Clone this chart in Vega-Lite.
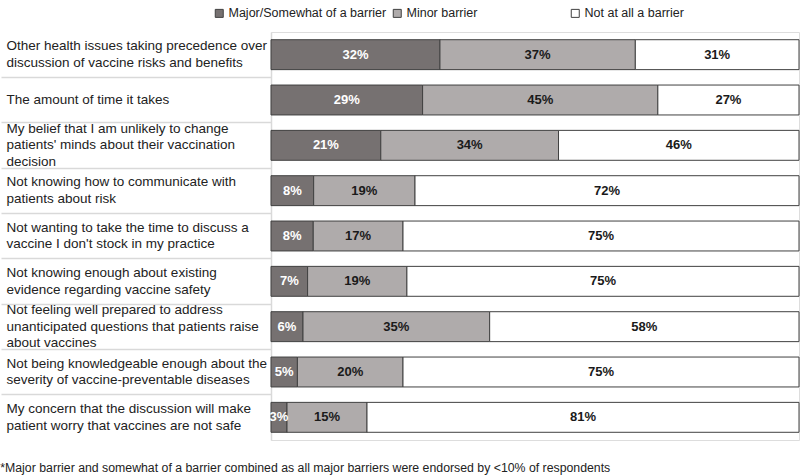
{
  "$schema": "https://vega.github.io/schema/vega-lite/v6.json",
  "width": 528,
  "height": 408,
  "autosize": {"type": "pad"},
  "padding": {"left": 0, "top": 7, "right": 1, "bottom": 1},
  "background": "white",
  "title": {
    "text": "*Major barrier and somewhat of a barrier combined as all major barriers were endorsed by <10% of respondents",
    "orient": "bottom",
    "anchor": "start",
    "frame": "bounds",
    "offset": 22,
    "font": "Liberation Sans",
    "fontSize": 12.3,
    "fontWeight": "normal",
    "color": "#222222"
  },
  "data": {
    "values": [
      {"item": "Other health issues taking precedence over|discussion of vaccine risks and benefits", "cat": "Major/Somewhat of a barrier", "value": 0.32},
      {"item": "Other health issues taking precedence over|discussion of vaccine risks and benefits", "cat": "Minor barrier", "value": 0.37},
      {"item": "Other health issues taking precedence over|discussion of vaccine risks and benefits", "cat": "Not at all a barrier", "value": 0.31},
      {"item": "The amount of time it takes", "cat": "Major/Somewhat of a barrier", "value": 0.29},
      {"item": "The amount of time it takes", "cat": "Minor barrier", "value": 0.45},
      {"item": "The amount of time it takes", "cat": "Not at all a barrier", "value": 0.27},
      {"item": "My belief that I am unlikely to change|patients' minds about their vaccination|decision", "cat": "Major/Somewhat of a barrier", "value": 0.21},
      {"item": "My belief that I am unlikely to change|patients' minds about their vaccination|decision", "cat": "Minor barrier", "value": 0.34},
      {"item": "My belief that I am unlikely to change|patients' minds about their vaccination|decision", "cat": "Not at all a barrier", "value": 0.46},
      {"item": "Not knowing how to communicate with|patients about risk", "cat": "Major/Somewhat of a barrier", "value": 0.08},
      {"item": "Not knowing how to communicate with|patients about risk", "cat": "Minor barrier", "value": 0.19},
      {"item": "Not knowing how to communicate with|patients about risk", "cat": "Not at all a barrier", "value": 0.72},
      {"item": "Not wanting to take the time to discuss a|vaccine I don't stock in my practice", "cat": "Major/Somewhat of a barrier", "value": 0.08},
      {"item": "Not wanting to take the time to discuss a|vaccine I don't stock in my practice", "cat": "Minor barrier", "value": 0.17},
      {"item": "Not wanting to take the time to discuss a|vaccine I don't stock in my practice", "cat": "Not at all a barrier", "value": 0.75},
      {"item": "Not knowing enough about existing|evidence regarding vaccine safety", "cat": "Major/Somewhat of a barrier", "value": 0.07},
      {"item": "Not knowing enough about existing|evidence regarding vaccine safety", "cat": "Minor barrier", "value": 0.19},
      {"item": "Not knowing enough about existing|evidence regarding vaccine safety", "cat": "Not at all a barrier", "value": 0.75},
      {"item": "Not feeling well prepared to address|unanticipated questions that patients raise|about vaccines", "cat": "Major/Somewhat of a barrier", "value": 0.06},
      {"item": "Not feeling well prepared to address|unanticipated questions that patients raise|about vaccines", "cat": "Minor barrier", "value": 0.35},
      {"item": "Not feeling well prepared to address|unanticipated questions that patients raise|about vaccines", "cat": "Not at all a barrier", "value": 0.58},
      {"item": "Not being knowledgeable enough about the|severity of vaccine-preventable diseases", "cat": "Major/Somewhat of a barrier", "value": 0.05},
      {"item": "Not being knowledgeable enough about the|severity of vaccine-preventable diseases", "cat": "Minor barrier", "value": 0.20},
      {"item": "Not being knowledgeable enough about the|severity of vaccine-preventable diseases", "cat": "Not at all a barrier", "value": 0.75},
      {"item": "My concern that the discussion will make|patient worry that vaccines are not safe", "cat": "Major/Somewhat of a barrier", "value": 0.03},
      {"item": "My concern that the discussion will make|patient worry that vaccines are not safe", "cat": "Minor barrier", "value": 0.15},
      {"item": "My concern that the discussion will make|patient worry that vaccines are not safe", "cat": "Not at all a barrier", "value": 0.81}
    ]
  },
  "transform": [
    {"stack": "value", "groupby": ["item"], "sort": [{"field": "cat", "order": "ascending"}], "offset": "normalize", "as": ["s0", "s1"]},
    {"calculate": "(datum.s0 + datum.s1) / 2", "as": "mid"}
  ],
  "encoding": {
    "y": {
      "field": "item",
      "type": "nominal",
      "sort": null,
      "scale": {"paddingInner": 0, "paddingOuter": 0},
      "axis": {
        "title": null,
        "bandPosition": 0,
        "tickSize": 270,
        "tickColor": "#d9d9d9",
        "tickWidth": 1.5,
        "tickOpacity": {"condition": {"test": "datum.index === 0", "value": 0}, "value": 1},
        "domainColor": "#d9d9d9",
        "domainWidth": 1.5,
        "labelAlign": "left",
        "labelBaseline": "middle",
        "labelPadding": -5,
        "labelLimit": 0,
        "labelFont": "Liberation Sans",
        "labelFontSize": 13.5,
        "labelLineHeight": 16.5,
        "labelColor": "#222222",
        "labelOffset": {
          "condition": [
            {"test": "length(split(datum.label, '|')) === 3", "value": -16.5},
            {"test": "length(split(datum.label, '|')) === 2", "value": -8.25}
          ],
          "value": 0
        },
        "labelExpr": "split(datum.label, '|')"
      }
    }
  },
  "layer": [
    {
      "mark": {"type": "bar", "height": {"band": 0.66}, "stroke": "#404040", "strokeWidth": 1},
      "encoding": {
        "x": {"field": "s0", "type": "quantitative", "scale": {"domain": [0, 1], "nice": false}, "axis": null},
        "x2": {"field": "s1"},
        "color": {
          "field": "cat",
          "type": "nominal",
          "scale": {"domain": ["Major/Somewhat of a barrier", "Minor barrier", "Not at all a barrier"], "range": ["#767171", "#AFABAB", "#FFFFFF"]},
          "legend": {
            "title": null,
            "orient": "none",
            "direction": "horizontal",
            "legendX": -58,
            "legendY": -25,
            "gridAlign": "all",
            "symbolType": "square",
            "symbolSize": 64,
            "symbolStrokeColor": "#404040",
            "symbolStrokeWidth": 1,
            "symbolOffset": 0,
            "labelOffset": 3,
            "columnPadding": 4,
            "labelFont": "Liberation Sans",
            "labelFontSize": 12.5,
            "labelColor": "#222222",
            "labelLimit": 0
          }
        }
      }
    },
    {
      "mark": {"type": "text", "font": "Liberation Sans", "fontWeight": "bold", "fontSize": 13, "align": "center", "baseline": "middle"},
      "encoding": {
        "x": {"field": "mid", "type": "quantitative"},
        "text": {"field": "value", "type": "quantitative", "format": ".0%"},
        "color": {"condition": {"test": "datum.cat === 'Major/Somewhat of a barrier'", "value": "#ffffff"}, "value": "#1a1a1a"}
      }
    }
  ]
}
